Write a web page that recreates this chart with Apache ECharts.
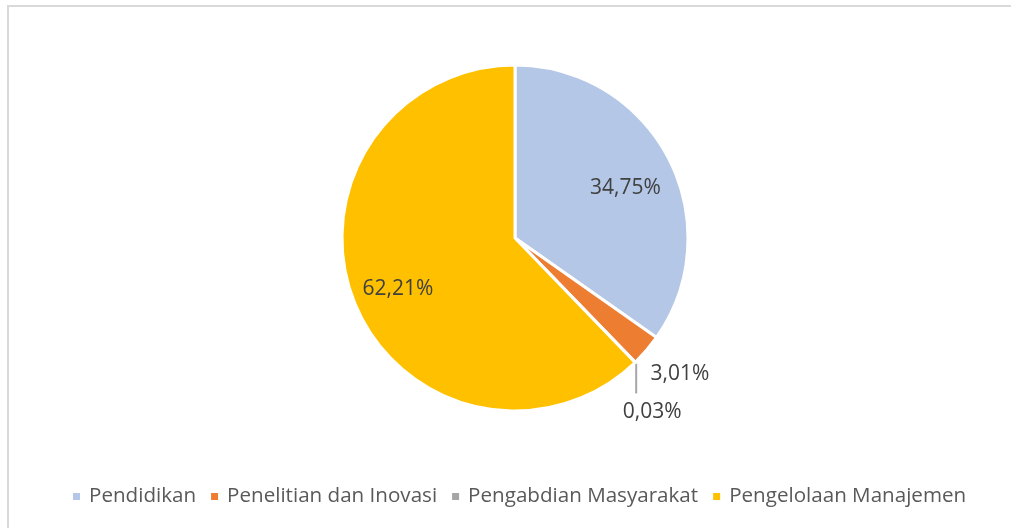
<!DOCTYPE html>
<html>
<head>
<meta charset="utf-8">
<script src="https://cdn.jsdelivr.net/npm/echarts@6/dist/echarts.min.js"></script>
<style>
  html, body { margin: 0; padding: 0; background: #ffffff; }
  #chart { width: 1011px; height: 528px; }
</style>
</head>
<body>
<div id="chart"></div>
<script>
// Budget share by programme (percent)
const categories = ['Pendidikan', 'Penelitian dan Inovasi', 'Pengabdian Masyarakat', 'Pengelolaan Manajemen'];
const shares = [34.75, 3.01, 0.03, 62.21];
const colors = ['#b4c7e7', '#ed7d31', '#a5a5a5', '#ffc000'];

const FONT = '"Open Sans", "Noto Sans", sans-serif';

const pieData = categories.map((name, i) => ({
  name: name,
  value: shares[i],
  itemStyle: { color: colors[i] }
}));

const chart = echarts.init(document.getElementById('chart'), null, { renderer: 'canvas' });

chart.setOption({
  animation: false,
  backgroundColor: '#ffffff',
  graphic: [{
    type: 'rect',
    shape: { x: 8, y: 6, width: 1100, height: 600 },
    style: { fill: 'none', stroke: '#d9d9d9', lineWidth: 2 },
    silent: true,
    z: -1
  }],
  legend: {
    left: 71,
    top: 486,
    padding: 0,
    icon: 'rect',
    itemWidth: 9,
    itemHeight: 9,
    itemGap: 13,
    textStyle: { fontFamily: FONT, fontSize: 20.6, color: '#595959', padding: [0, 0, 0, 3] },
    data: categories
  },
  series: [{
    type: 'pie',
    center: [515, 238],
    radius: [0, 173],
    startAngle: 90,
    clockwise: true,
    avoidLabelOverlap: false,
    itemStyle: { borderColor: '#ffffff', borderWidth: 3 },
    label: {
      fontFamily: FONT,
      fontSize: 21,
      color: '#404040',
      formatter: p => p.value.toFixed(2).replace('.', ',') + '%'
    },
    labelLine: { show: true, length: 10, length2: 0, lineStyle: { color: '#a6a6a6', width: 2 } },
    data: pieData.map((d, i) => {
      const inside = i === 0 || i === 3;
      return Object.assign({}, d, {
        label: { position: inside ? 'inside' : 'outside' },
        labelLine: inside ? { show: false } : (i === 1 ? { show: true, lineStyle: { opacity: 0 } } : { show: true })
      });
    }),
    labelLayout: function (p) {
      if (p.dataIndex === 0) return { dx: 31, dy: -9 };
      if (p.dataIndex === 3) return { dx: -34, dy: 18 };
      const e = p.labelLinePoints && p.labelLinePoints[0];
      if (!e) return {};
      if (p.dataIndex === 1) {
        return { x: e[0] + 4, y: e[1] + 24, align: 'left', verticalAlign: 'middle' };
      }
      return {
        x: e[0] + 17, y: e[1] + 50, align: 'center', verticalAlign: 'middle',
        labelLinePoints: [[e[0] + 1, e[1] + 1], [e[0] + 1, e[1] + 31], [e[0] + 1, e[1] + 31]]
      };
    }
  }]
});
</script>
</body>
</html>
